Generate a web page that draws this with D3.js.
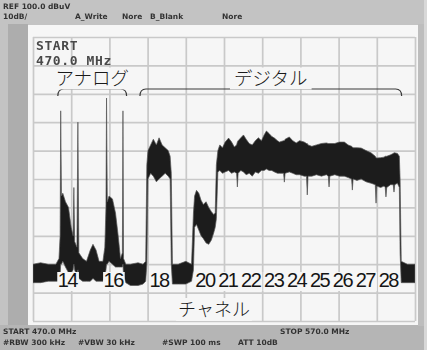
<!DOCTYPE html>
<html>
<head>
<meta charset="utf-8">
<script src="https://cdn.jsdelivr.net/npm/d3@7"></script>
<style>
  html, body { margin: 0; padding: 0; background: #c3c3c3; }
  svg { display: block; }
</style>
</head>
<body>
<div id="chart"></div>
<script>
// sweep settings
const freqRange = [470, 570];      // MHz, START / STOP
const levelRange = [0, 100];       // dBuV, REF 100, 10 dB/div
const freqTicks = [470, 480, 490, 500, 510, 520, 530, 540, 550, 560, 570];
const levelTicks = [0, 10, 20, 30, 40, 50, 60, 70, 80, 90, 100];

// UHF channel labels (ch13 starts at 470 MHz, 6 MHz wide)
const channels = [14, 16, 18, 20, 21, 22, 23, 24, 25, 26, 27, 28];
const groups = [
  { name: "アナログ", from: 476.5, to: 494.5 },
  { name: "デジタル", from: 498, to: 566.5 }
];

// trace envelope (max / min level in dBuV) at each frequency
const freqMHz = [
  470.0, 472.0, 474.0, 476.0, 476.8, 477.1, 477.25, 477.45, 477.8, 478.5, 479.3, 480.0, 480.5, 480.7, 480.9, 481.5, 481.75, 482.0,
  483.0, 484.0, 485.0, 485.7, 486.5, 487.3,
  488.3, 488.8, 489.1, 489.25, 489.45, 489.9, 490.8, 491.6, 492.3, 492.9, 493.4, 493.55, 493.7, 494.3,
  495.5, 497.5, 498.8, 499.5, 499.8,
  500.1, 500.8, 501.5, 502.3, 503.0, 503.8, 504.6, 505.4, 505.9, 506.2, 506.5,
  508.0, 510.0, 511.5, 512.0,
  512.3, 512.8, 513.4, 514.0, 514.6, 515.3, 516.0, 516.7, 517.3, 517.7, 518.0,
  518.4, 518.9, 519.6, 520.3, 521.2, 522.0, 522.7, 523.3, 523.5, 523.7, 524.4, 525.1, 525.8, 526.6, 527.4,
  528.2, 529.0, 529.8, 530.5, 531.1, 531.8, 532.5, 533.2, 534.0, 534.5, 535.6, 535.8, 536.0, 537.1, 538.0,
  538.9, 539.8, 541.0, 541.6, 541.8, 542.0, 543.0, 544.2, 545.5, 546.8, 547.3, 547.5, 547.7, 549.0, 550.2,
  551.5, 552.5, 553.4, 553.6, 553.8, 554.8, 555.9, 557.2, 558.5, 559.6, 559.8, 560.0, 561.0, 561.9, 562.2,
  562.4, 562.6, 563.6, 564.3, 564.5, 564.7, 565.4, 565.9, 566.1, 566.4, 568.0, 570.0
];
const traceHi = [
  20, 20.5, 20, 20, 22, 30, 74, 44, 45, 42, 40, 33, 30, 47, 28, 26, 70, 24,
  22, 21, 25, 27, 25, 21,
  21, 26, 40, 78.5, 42, 44, 43, 38, 30, 22, 24, 74, 22, 20,
  20, 20.5, 20, 21, 55,
  60, 62, 64, 62, 64.5, 62, 61, 60, 58, 52, 20,
  20, 21, 20, 38,
  44, 46, 45, 42.5, 41, 42, 40, 38.5, 37.5, 38, 55,
  60, 62, 61, 63, 64.4, 63, 61.3, 62, 63, 63.5, 64.5, 65.5, 64, 62.5, 62,
  63.5, 64.5, 63.5, 65.5, 66.9, 66, 65, 64.4, 63.5, 63, 63.5, 63.5, 64, 64.8, 63.5,
  62.7, 63.5, 63, 62.5, 62.5, 62, 61.5, 62, 62.5, 62.7, 62.5, 62.5, 62.5, 62.5, 63,
  63, 62, 61.5, 61.3, 61, 61, 60.9, 60, 59.2, 58, 57.5, 57.4, 57.5, 57.7, 58,
  58, 58, 58.5, 59, 59.2, 59.2, 59, 58, 50, 21, 20, 20
];
const traceLo = [
  13.5, 13.5, 14, 14, 14, 16, 20, 20, 21, 19, 17, 17, 18, 20, 18, 16, 18, 15,
  14, 14, 14, 15, 14, 14,
  14, 16, 18, 20, 20, 21, 20, 19, 19, 19, 19, 20, 16, 13.5,
  12.5, 12.5, 13, 14, 20,
  50, 52, 51, 49, 50, 51, 52, 51, 50, 20, 13,
  13, 13, 14, 18,
  33, 34, 32, 30, 29, 27.5, 27, 28.5, 31, 33, 36,
  52.5, 53, 52, 52.5, 53, 52, 52.5, 52, 47.2, 52, 53, 52.5, 51.5, 52, 51,
  52.5, 52, 53, 53, 53.5, 53, 53, 52.5, 52, 52, 52, 48.9, 52, 52.5, 52,
  51.5, 51.5, 51, 51, 44.4, 51, 51, 51.5, 51, 51.5, 51, 47.2, 51, 51.5, 51,
  51, 50.5, 50, 46.1, 50, 49.5, 50, 49, 48.5, 48, 41.5, 47.5, 47, 47.5, 47,
  43.7, 47, 48, 48, 45.4, 48, 48.5, 47, 24, 13.5, 13.5, 13.5
];

// screen annotations
const headerLines = ["REF 100.0 dBuV", "10dB/"];
const headerModes = ["A_Write", "Nore", "B_Blank", "Nore"];
const footerLeft = ["START 470.0 MHz", "#RBW 300 kHz"];
const footerSettings = ["#VBW 30 kHz", "#SWP 100 ms", "ATT 10dB"];
const footerRight = "STOP 570.0 MHz";
const startLines = ["START", "470.0 MHz"];
const xTitle = "チャネル";

const width = 427, height = 350;
const plot = { left: 33, right: 415, top: 37, bottom: 321 };

const x = d3.scaleLinear().domain(freqRange).range([plot.left, plot.right]);
const y = d3.scaleLinear().domain(levelRange).range([plot.bottom, plot.top]);

const svg = d3.select("#chart")
  .append("svg")
  .attr("width", width)
  .attr("height", height)
  .attr("viewBox", `0 0 ${width} ${height}`);

const defs = svg.append("defs");
defs.append("filter").attr("id", "soft")
  .append("feGaussianBlur").attr("stdDeviation", 0.5);
defs.append("filter").attr("id", "softer")
  .append("feGaussianBlur").attr("stdDeviation", 0.7);
defs.append("clipPath").attr("id", "plot-clip")
  .append("rect")
  .attr("x", plot.left).attr("y", plot.top - 2)
  .attr("width", plot.right - plot.left).attr("height", plot.bottom - plot.top + 2);

// bezel
svg.append("rect").attr("width", width).attr("height", height).attr("fill", "#c3c3c3");
svg.append("rect").attr("x", 8).attr("y", 24).attr("width", 20).attr("height", 302).attr("fill", "#adadad");
svg.append("rect").attr("x", 0).attr("y", 325).attr("width", width).attr("height", 25).attr("fill", "#b5b5b5");
svg.append("rect").attr("x", 418).attr("y", 24).attr("width", 6).attr("height", 302).attr("fill", "#bdbdbd");
svg.append("rect").attr("x", 424).attr("y", 0).attr("width", 3).attr("height", height).attr("fill", "#d8d8d8");
svg.append("rect").attr("x", 28).attr("y", 25).attr("width", 390).attr("height", 300).attr("fill", "#f6f6f6");

// graticule
const grid = svg.append("g").attr("class", "grid");
grid.append("g")
  .attr("transform", `translate(0,${plot.bottom})`)
  .call(d3.axisBottom(x).tickValues(freqTicks).tickSize(-(plot.bottom - plot.top)).tickFormat(""));
grid.append("g")
  .attr("transform", `translate(${plot.left},0)`)
  .call(d3.axisLeft(y).tickValues(levelTicks).tickSize(-(plot.right - plot.left)).tickFormat(""));
grid.selectAll(".domain").remove();
grid.selectAll("line").attr("stroke", "#c9c9c9").attr("stroke-width", 1.7);

// trace
const traceData = freqMHz.map((f, i) => ({ f: f, hi: traceHi[i], lo: traceLo[i] }));
const area = d3.area()
  .x(d => x(d.f))
  .y0(d => y(d.lo))
  .y1(d => y(d.hi));

svg.append("g")
  .attr("clip-path", "url(#plot-clip)")
  .append("path")
  .datum(traceData)
  .attr("d", area)
  .attr("fill", "#1e1e1e")
  .attr("stroke", "#555")
  .attr("stroke-width", 0.7)
  .attr("stroke-linejoin", "round")
  .attr("filter", "url(#softer)");

// text with a white patch behind it
function labelWithBg(g, txt, cx, baseline, size, opts) {
  const t = g.append("text")
    .attr("x", cx)
    .attr("y", baseline)
    .attr("text-anchor", "middle")
    .attr("font-family", opts.family)
    .attr("font-size", size)
    .attr("font-weight", opts.weight || "normal")
    .attr("letter-spacing", opts.spacing || 0)
    .attr("fill", opts.color || "#1a1a1a")
    .text(txt);
  const b = t.node().getBBox();
  g.insert("rect", () => t.node())
    .attr("x", b.x - (opts.padX || 1))
    .attr("y", b.y + (opts.padTop || 1))
    .attr("width", b.width + 2 * (opts.padX || 1))
    .attr("height", b.height - (opts.padTop || 1))
    .attr("fill", "#f6f6f6");
  return t;
}

const jpFont = "'Noto Sans CJK JP', 'Noto Sans', sans-serif";

// channel numbers at each channel centre
const chG = svg.append("g");
channels.forEach(ch => {
  const centre = freqRange[0] + (ch - 13) * 6 + 3;
  labelWithBg(chG, String(ch), x(centre), 287, 20,
    { family: "'Liberation Sans', Arial, sans-serif", spacing: -1.5, color: "#151515", padX: 0.5, padTop: 3 });
});

// analog / digital groups with brackets
const grpG = svg.append("g");
groups.forEach(gr => {
  const x0 = x(gr.from), x1 = x(gr.to), yb = 89;
  grpG.append("path")
    .attr("d", `M${x0},${yb + 7} Q${x0},${yb} ${x0 + 6},${yb} L${x1 - 6},${yb} Q${x1},${yb} ${x1},${yb + 7}`)
    .attr("fill", "none")
    .attr("stroke", "#3a3a3a")
    .attr("stroke-width", 1.2);
  labelWithBg(grpG, gr.name, (x0 + x1) / 2, 84.5, 18.5,
    { family: jpFont, weight: 300, color: "#1a1a1a", padX: 4, padTop: 4 });
});

labelWithBg(svg.append("g"), xTitle, 214, 316, 18,
  { family: jpFont, weight: 300, color: "#1a1a1a", padX: 2, padTop: 3 });

// START annotation inside the screen
svg.append("g")
  .attr("filter", "url(#soft)")
  .selectAll("text")
  .data(startLines)
  .join("text")
  .attr("x", 36)
  .attr("y", (d, i) => 50 + i * 15)
  .attr("font-family", "'DejaVu Sans Mono', monospace")
  .attr("font-weight", "bold")
  .attr("font-size", 13)
  .attr("letter-spacing", 0.6)
  .attr("fill", "#4a4a4a")
  .text(d => d);

// bezel read-outs
const small = svg.append("g")
  .attr("filter", "url(#soft)")
  .attr("font-family", "'DejaVu Sans', sans-serif")
  .attr("font-weight", "bold")
  .attr("font-size", 7.5)
  .attr("fill", "#333");
small.append("text").attr("x", 3).attr("y", 9).text(headerLines[0]);
small.append("text").attr("x", 3).attr("y", 19).text(headerLines[1]);
[75, 122, 150, 222].forEach((px, i) => {
  small.append("text").attr("x", px).attr("y", 19).text(headerModes[i]);
});
small.append("text").attr("x", 3).attr("y", 334).text(footerLeft[0]);
small.append("text").attr("x", 280).attr("y", 334).text(footerRight);
small.append("text").attr("x", 3).attr("y", 345).text(footerLeft[1]);
[78, 162, 238].forEach((px, i) => {
  small.append("text").attr("x", px).attr("y", 345).text(footerSettings[i]);
});
</script>
</body>
</html>
